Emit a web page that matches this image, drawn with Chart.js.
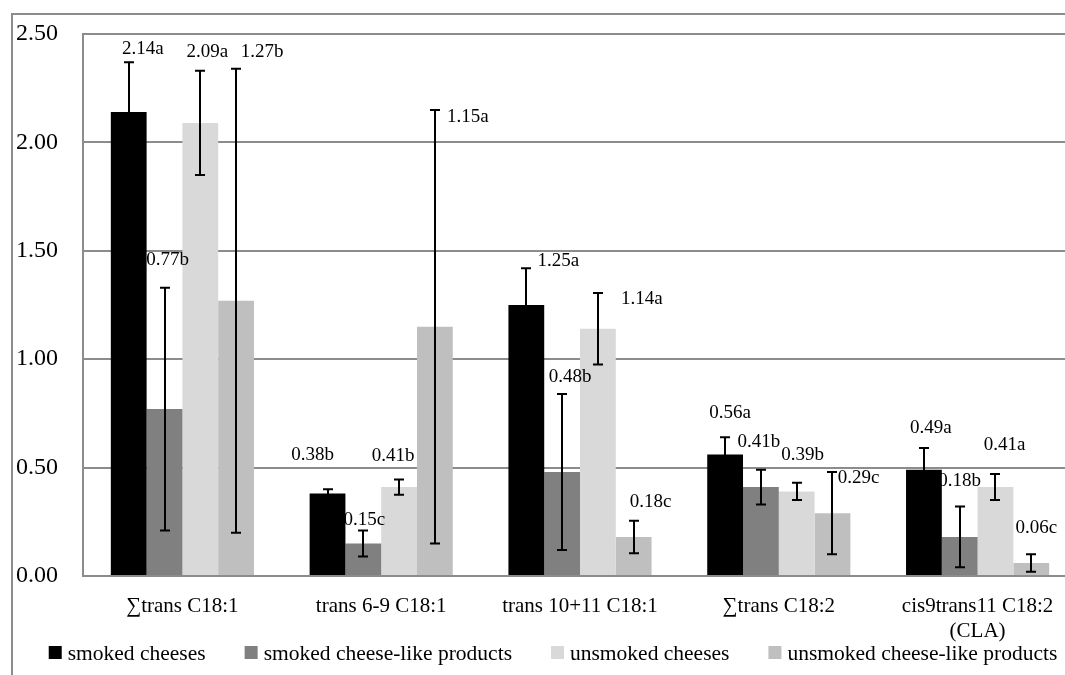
<!DOCTYPE html>
<html>
<head>
<meta charset="utf-8">
<script src="https://cdn.jsdelivr.net/npm/chart.js@4"></script>
<style>
  body { margin: 0; background: #fff; overflow: hidden; }
  #wrap { position: absolute; left: 0; top: 0; width: 1090px; height: 675px; }
</style>
</head>
<body>
<div id="wrap"><canvas id="chart" width="1090" height="675"></canvas></div>
<script>
// --- data ---
const categories = ['\u2211trans C18:1', 'trans 6-9 C18:1', 'trans 10+11 C18:1', '\u2211trans C18:2', ['cis9trans11 C18:2', '(CLA)']];
const seriesNames = ['smoked cheeses', 'smoked cheese-like products', 'unsmoked cheeses', 'unsmoked cheese-like products'];

const smokedCheeses = [2.14, 0.38, 1.25, 0.56, 0.49];
const smokedLike = [0.77, 0.15, 0.48, 0.41, 0.18];
const unsmokedCheeses = [2.09, 0.41, 1.14, 0.39, 0.41];
const unsmokedLike = [1.27, 1.15, 0.18, 0.29, 0.06];

const smokedCheesesErr = [0.23, 0.02, 0.17, 0.08, 0.10];
const smokedLikeErr = [0.56, 0.06, 0.36, 0.08, 0.14];
const unsmokedCheesesErr = [0.24, 0.035, 0.165, 0.04, 0.06];
const unsmokedLikeErr = [1.07, 1.00, 0.075, 0.19, 0.04];

const smokedCheesesTag = ['a', 'b', 'a', 'a', 'a'];
const smokedLikeTag = ['b', 'c', 'b', 'b', 'b'];
const unsmokedCheesesTag = ['a', 'b', 'a', 'b', 'a'];
const unsmokedLikeTag = ['b', 'a', 'c', 'c', 'c'];

const yTicks = [0, 0.5, 1, 1.5, 2, 2.5];

// --- look ---
const colors = ['#000000', '#808080', '#d9d9d9', '#bfbfbf'];
const FONT = '"Liberation Serif", "Times New Roman", serif';
const frameGrey = '#8c8c8c';

// label offsets (px) from bar centre / top of error bar, one row per series
const labelOffsets = [
  [[14, -13], [-15, -34], [32, -7], [5, -24], [7, -20]],
  [[3, -28], [1, -10], [8, -17], [-2, -28], [0, -26]],
  [[7, -19], [-6, -24], [44, 6], [6, -28], [9, -29]],
  [[26, -17], [33, 7], [17, -19], [26, 6], [5, -26]]
];

const values = [smokedCheeses, smokedLike, unsmokedCheeses, unsmokedLike];
const errors = [smokedCheesesErr, smokedLikeErr, unsmokedCheesesErr, unsmokedLikeErr];
const tags = [smokedCheesesTag, smokedLikeTag, unsmokedCheesesTag, unsmokedLikeTag];

// outer frame behind everything
const framePlugin = {
  id: 'frame',
  beforeDraw(chart) {
    const ctx = chart.ctx;
    ctx.save();
    ctx.fillStyle = '#fff';
    ctx.fillRect(0, 0, chart.width, chart.height);
    ctx.strokeStyle = frameGrey;
    ctx.lineWidth = 2;
    ctx.beginPath();
    ctx.moveTo(12, chart.height);
    ctx.lineTo(12, 14);
    ctx.lineTo(chart.width, 14);
    ctx.stroke();
    ctx.restore();
  }
};

// error bars + value labels
const errorPlugin = {
  id: 'errbars',
  afterDatasetsDraw(chart) {
    const ctx = chart.ctx;
    const y = chart.scales.y;
    ctx.save();
    ctx.strokeStyle = '#000';
    ctx.lineWidth = 2;
    chart.data.datasets.forEach((ds, di) => {
      const meta = chart.getDatasetMeta(di);
      meta.data.forEach((bar, i) => {
        const v = values[di][i], e = errors[di][i];
        const top = y.getPixelForValue(v + e);
        const bot = y.getPixelForValue(Math.max(v - e, 0));
        const x = Math.round(bar.x);
        ctx.beginPath();
        ctx.moveTo(x, top); ctx.lineTo(x, bot);
        ctx.moveTo(x - 5, top); ctx.lineTo(x + 5, top);
        ctx.moveTo(x - 5, bot); ctx.lineTo(x + 5, bot);
        ctx.stroke();
      });
    });
    ctx.fillStyle = '#000';
    ctx.font = '19px ' + FONT;
    ctx.textAlign = 'center';
    ctx.textBaseline = 'middle';
    chart.data.datasets.forEach((ds, di) => {
      const meta = chart.getDatasetMeta(di);
      meta.data.forEach((bar, i) => {
        const v = values[di][i], e = errors[di][i];
        const top = y.getPixelForValue(v + e);
        const off = labelOffsets[di][i];
        ctx.fillText(v.toFixed(2) + tags[di][i], bar.x + off[0], top + off[1]);
      });
    });
    ctx.restore();
  }
};

// legend row along the bottom
const legendPlugin = {
  id: 'bottomLegend',
  afterDraw(chart) {
    const ctx = chart.ctx;
    ctx.save();
    ctx.font = '21.5px ' + FONT;
    ctx.textBaseline = 'middle';
    ctx.fillStyle = '#000';
    const box = 13, gapText = 6, gapItem = 39;
    const widths = seriesNames.map(n => box + gapText + ctx.measureText(n).width);
    const total = widths.reduce((a, b) => a + b, 0) + gapItem * (widths.length - 1);
    let x = 553 - total / 2;
    const cy = 653;
    seriesNames.forEach((n, i) => {
      ctx.fillStyle = colors[i];
      ctx.fillRect(x, cy - 7, box, box);
      ctx.fillStyle = '#000';
      ctx.fillText(n, x + box + gapText, cy + 1);
      x += widths[i] + gapItem;
    });
    ctx.restore();
  }
};

const datasets = seriesNames.map((name, i) => ({
  label: name,
  data: values[i],
  backgroundColor: colors[i],
  borderWidth: 0,
  categoryPercentage: 0.72,
  barPercentage: 1.0
}));

new Chart(document.getElementById('chart'), {
  type: 'bar',
  data: { labels: categories, datasets },
  options: {
    responsive: false,
    animation: false,
    devicePixelRatio: 1,
    layout: { padding: { left: 16, top: 34, right: 13, bottom: 0 } },
    plugins: {
      legend: { display: false },
      tooltip: { enabled: false }
    },
    scales: {
      x: {
        grid: { display: false, drawTicks: false },
        border: { display: true, color: frameGrey, width: 2 },
        ticks: {
          color: '#000',
          font: { family: FONT, size: 21 },
          padding: 18,
          maxRotation: 0,
          autoSkip: false
        },
        afterFit(scale) { scale.height = 99; }
      },
      y: {
        min: 0,
        max: 2.5,
        afterBuildTicks(scale) { scale.ticks = yTicks.map(v => ({ value: v })); },
        grid: { color: frameGrey, lineWidth: 2, drawTicks: false },
        border: { display: true, color: frameGrey, width: 2 },
        ticks: {
          color: '#000',
          font: { family: FONT, size: 24 },
          crossAlign: 'far',
          padding: 6,
          callback: v => Number(v).toFixed(2)
        },
        afterFit(scale) { scale.width = 67; }
      }
    }
  },
  plugins: [framePlugin, errorPlugin, legendPlugin]
});
</script>
</body>
</html>
